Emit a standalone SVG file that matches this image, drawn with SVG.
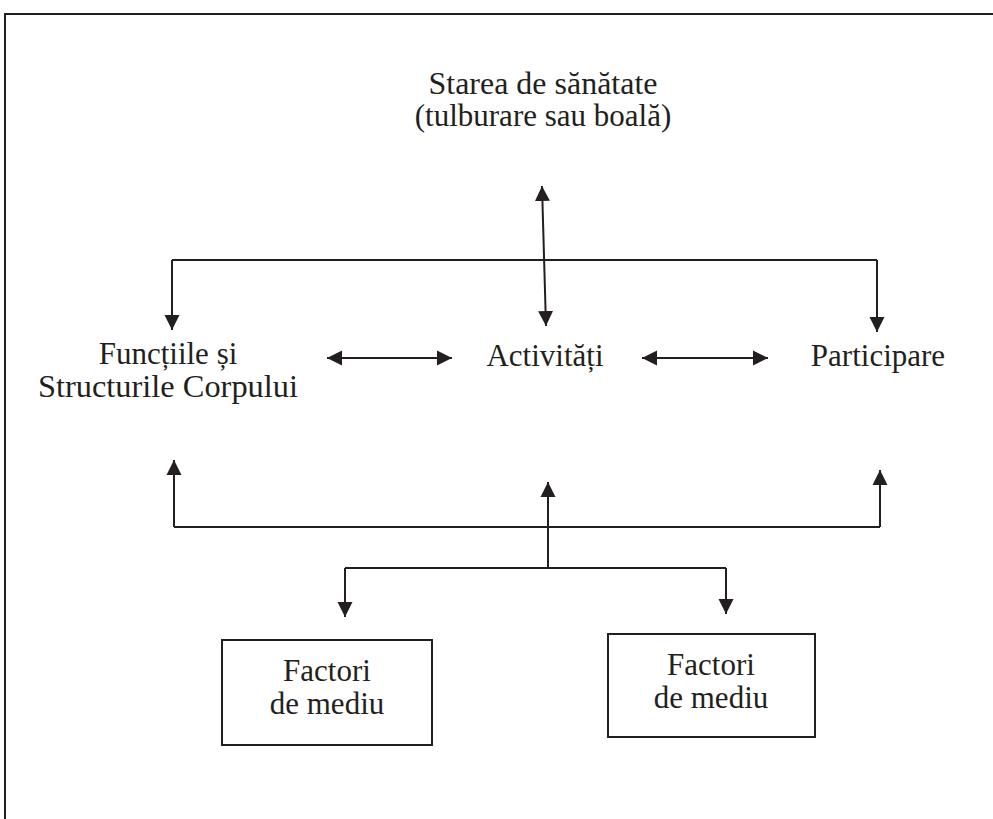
<svg xmlns="http://www.w3.org/2000/svg" width="993" height="819" viewBox="0 0 993 819">
<style>
text{font-family:"Liberation Serif","Times New Roman",serif;font-size:31px;fill:#231f20;text-anchor:middle}
.c{fill:none;stroke:#231f20;stroke-width:2}
.box{fill:#fff;stroke:#231f20;stroke-width:2}
</style>
<defs>
<marker id="ah" markerUnits="userSpaceOnUse" markerWidth="16" markerHeight="16" viewBox="0 0 16 16" refX="15" refY="8" orient="auto-start-reverse">
<path d="M0,0.5 L15,8 L0,15.5 Z" fill="#231f20"/>
</marker>
</defs>
<rect width="993" height="819" fill="#fff"/>
<path d="M5,819 V14 H993" fill="none" stroke="#231f20" stroke-width="2"/>
<g id="starea"><text x="543" y="94" textLength="229" lengthAdjust="spacingAndGlyphs">Starea de sănătate</text><text x="543" y="126">(tulburare sau boală)</text></g>
<g id="functii"><text x="168" y="364">Funcțiile și</text><text x="168" y="397" textLength="260" lengthAdjust="spacingAndGlyphs">Structurile Corpului</text></g>
<g id="activitati"><text x="545" y="366">Activități</text></g>
<g id="participare"><text x="878" y="366">Participare</text></g>
<g id="factori1"><rect class="box" x="222" y="640" width="210" height="105"/><text x="327" y="681">Factori</text><text x="327" y="714">de mediu</text></g>
<g id="factori2"><rect class="box" x="608" y="634" width="207" height="103"/><text x="711" y="675">Factori</text><text x="711" y="708">de mediu</text></g>
<g id="connectors">
<path class="c" d="M542,186 L546,326" marker-start="url(#ah)" marker-end="url(#ah)"/>
<path class="c" d="M172,260 H877"/>
<path class="c" d="M172,260 V330" marker-end="url(#ah)"/>
<path class="c" d="M877,260 V332" marker-end="url(#ah)"/>
<path class="c" d="M327,358 H452" marker-start="url(#ah)" marker-end="url(#ah)"/>
<path class="c" d="M642,358 H768" marker-start="url(#ah)" marker-end="url(#ah)"/>
<path class="c" d="M548,568 V482" marker-end="url(#ah)"/>
<path class="c" d="M174,527 H880"/>
<path class="c" d="M174,527 V460" marker-end="url(#ah)"/>
<path class="c" d="M880,527 V470" marker-end="url(#ah)"/>
<path class="c" d="M345,568 H726"/>
<path class="c" d="M345,568 V617" marker-end="url(#ah)"/>
<path class="c" d="M726,568 V614" marker-end="url(#ah)"/>
</g>
</svg>
